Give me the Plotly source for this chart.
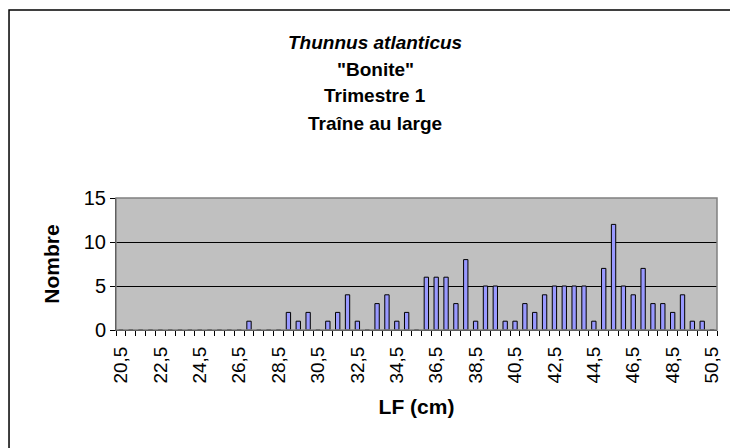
import plotly.graph_objects as go

# classes de taille (LF, cm) et effectifs
lf_cm = [20.5, 21.0, 21.5, 22.0, 22.5, 23.0, 23.5, 24.0, 24.5, 25.0,
         25.5, 26.0, 26.5, 27.0, 27.5, 28.0, 28.5, 29.0, 29.5, 30.0,
         30.5, 31.0, 31.5, 32.0, 32.5, 33.0, 33.5, 34.0, 34.5, 35.0,
         35.5, 36.0, 36.5, 37.0, 37.5, 38.0, 38.5, 39.0, 39.5, 40.0,
         40.5, 41.0, 41.5, 42.0, 42.5, 43.0, 43.5, 44.0, 44.5, 45.0,
         45.5, 46.0, 46.5, 47.0, 47.5, 48.0, 48.5, 49.0, 49.5, 50.0,
         50.5]
nombre = [0, 0, 0, 0, 0, 0, 0, 0, 0, 0,
          0, 0, 0, 1, 0, 0, 0, 2, 1, 2,
          0, 1, 2, 4, 1, 0, 3, 4, 1, 2,
          0, 6, 6, 6, 3, 8, 1, 5, 5, 1,
          1, 3, 2, 4, 5, 5, 5, 5, 1, 7,
          12, 5, 4, 7, 3, 3, 2, 4, 1, 1,
          0]

tick_vals = [20.5, 22.5, 24.5, 26.5, 28.5, 30.5, 32.5, 34.5,
             36.5, 38.5, 40.5, 42.5, 44.5, 46.5, 48.5, 50.5]
tick_text = ['20,5', '22,5', '24,5', '26,5', '28,5', '30,5', '32,5', '34,5',
             '36,5', '38,5', '40,5', '42,5', '44,5', '46,5', '48,5', '50,5']

title_lines = ['<i>Thunnus atlanticus</i>', '"Bonite"', 'Trimestre 1', 'Traîne au large']

FONT = 'Liberation Sans, Arial, sans-serif'

fig = go.Figure(
    go.Bar(
        x=lf_cm,
        y=nombre,
        width=0.22,
        marker=dict(color='#9999FF', line=dict(color='black', width=1)),
    )
)

# titre sur 4 lignes
title_y = [2.18, 1.97, 1.773, 1.568]
annotations = []
for txt, yy in zip(title_lines, title_y):
    annotations.append(dict(
        text='<b>' + txt + '</b>', x=0.431, y=yy, xref='paper', yref='paper',
        showarrow=False, xanchor='center', yanchor='middle',
        font=dict(family=FONT, size=19, color='black'),
    ))

fig.update_layout(
    width=730,
    height=448,
    margin=dict(l=116, r=8, t=198, b=118),
    paper_bgcolor='white',
    plot_bgcolor='#C0C0C0',
    showlegend=False,
    font=dict(family=FONT, color='black'),
    annotations=annotations,
    shapes=[
        # cadre du graphique
        dict(type='rect', xref='paper', yref='paper',
             x0=-0.178, x1=1.2, y0=-1.5, y1=2.424,
             line=dict(color='black', width=1.5), layer='below'),
        # bordure de la zone de tracé
        dict(type='rect', xref='paper', yref='paper',
             x0=0, x1=1, y0=0, y1=1,
             line=dict(color='#808080', width=1.5), layer='above'),
    ],
    xaxis=dict(
        range=[20.25, 50.75],
        tickmode='array',
        tickvals=tick_vals,
        ticktext=tick_text,
        tickangle=-90,
        ticks='',
        ticklabelstandoff=8,
        ticklabeloverflow='allow',
        tickfont=dict(size=19),
        minor=dict(ticks='outside', tick0=20.25, dtick=0.5, ticklen=5,
                   tickcolor='black', showgrid=False),
        showgrid=False,
        showline=True,
        linecolor='black',
        linewidth=1,
        zeroline=False,
        title=dict(text='<b>LF (cm)</b>', font=dict(size=21), standoff=16),
    ),
    yaxis=dict(
        range=[0, 15],
        dtick=5,
        ticks='outside',
        ticklen=5,
        tickcolor='black',
        tickfont=dict(size=20),
        showgrid=True,
        gridcolor='black',
        gridwidth=1,
        showline=True,
        linecolor='black',
        linewidth=1,
        zeroline=False,
        title=dict(text='<b>Nombre</b>', font=dict(size=21), standoff=18),
    ),
)

# pas de marge autour de la page, la figure occupe toute la fenêtre
fig.write_html("out.html",
               config={'displayModeBar': False},
               post_script="document.body.style.margin='0';document.body.style.overflow='hidden';")
